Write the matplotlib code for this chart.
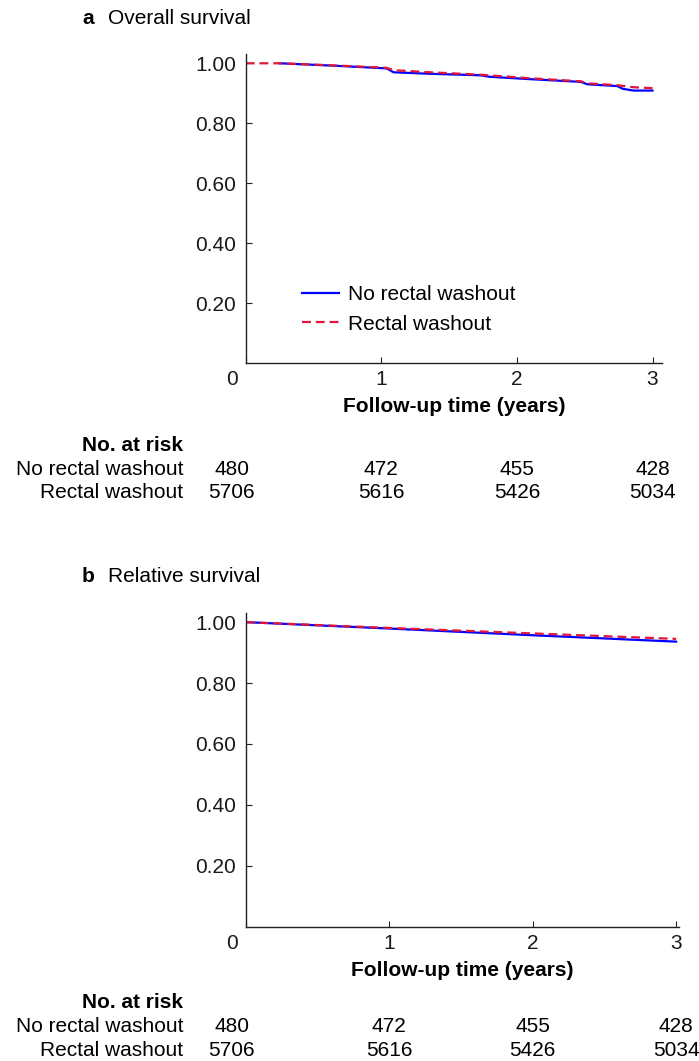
import matplotlib
matplotlib.use('Agg')
import matplotlib.pyplot as plt
import matplotlib.transforms as mtransforms

plt.rcParams['font.family'] = ['Liberation Sans', 'DejaVu Sans']
plt.rcParams['font.size'] = 15

# panel a: overall survival (Kaplan-Meier estimates)
os_no_t = [0.25, 0.65, 1.04, 1.09, 1.36, 1.73, 1.80, 2.10, 2.47, 2.52, 2.74, 2.78, 2.86, 3.0]
os_no_s = [1.0, 0.992, 0.983, 0.970, 0.965, 0.960, 0.955, 0.947, 0.938, 0.930, 0.924, 0.915, 0.909, 0.909]
os_rw_t = [0, 0.25, 0.65, 1.04, 1.09, 1.36, 1.73, 2.10, 2.47, 2.52, 2.74, 2.86, 3.0]
os_rw_s = [1.0, 1.0, 0.993, 0.985, 0.977, 0.970, 0.962, 0.950, 0.940, 0.933, 0.927, 0.920, 0.917]

# panel b: relative survival
rs_no_t = [0, 1, 2, 3]
rs_no_s = [1.0, 0.979, 0.957, 0.936]
rs_rw_t = [0, 1, 2, 3]
rs_rw_s = [1.0, 0.981, 0.963, 0.945]

risk_times = [0, 1, 2, 3]
risk_no = [480, 472, 455, 428]
risk_rw = [5706, 5616, 5426, 5034]

yticks = [0.2, 0.4, 0.6, 0.8, 1.0]
ytick_labels = ['0.20', '0.40', '0.60', '0.80', '1.00']

W, H = 699, 1061
fig = plt.figure(figsize=(W / 100, H / 100), dpi=100)

BLUE = '#0000ff'
RED = '#e0173a'


def px_axes(left, top, right, bottom):
    return fig.add_axes([left / W, 1 - bottom / H, (right - left) / W, (bottom - top) / H])


def draw_panel(ax, xmax, t_no, s_no, t_rw, s_rw, letter, title, title_y, risk_y, legend):
    ax.plot(t_no, s_no, color=BLUE, lw=1.6, label='No rectal washout')
    ax.plot(t_rw, s_rw, color=RED, lw=1.6, ls=(0, (4, 2.2)), label='Rectal washout')
    ax.set_xlim(0, xmax)
    ax.set_ylim(0, 1.031)
    for s in ['top', 'right']:
        ax.spines[s].set_visible(False)
    for s in ['left', 'bottom']:
        ax.spines[s].set_linewidth(1.0)
        ax.spines[s].set_color('#222222')
    ax.set_yticks(yticks, labels=ytick_labels)
    ax.set_xticks([0, 1, 2, 3], labels=['0', '1', '2', '3'])
    ax.tick_params(direction='in', length=4.5, width=0.8, color='#222222',
                   labelcolor='#1a1a1a', labelsize=15)
    ax.tick_params(axis='y', pad=7)
    ax.tick_params(axis='x', pad=5)
    # the "0" sits left of the origin, as in the original
    off = mtransforms.ScaledTranslation(-14 / 100, 0, fig.dpi_scale_trans)
    lbl0 = ax.get_xticklabels()[0]
    lbl0.set_transform(lbl0.get_transform() + off)
    ax.set_xlabel('Follow-up time (years)', fontweight='bold', fontsize=15, labelpad=6)

    if legend:
        ax.legend(loc='lower left', bbox_to_anchor=(0.089, 0.034), frameon=False,
                  handlelength=1.8, handletextpad=0.42, labelspacing=0.5, fontsize=15)

    fig.text(82 / W, 1 - title_y / H, letter, fontweight='bold', fontsize=15, va='center')
    fig.text(108 / W, 1 - title_y / H, title, fontsize=15, va='center')

    # number at risk table
    fig.text(183 / W, 1 - risk_y / H, 'No. at risk', fontweight='bold', fontsize=15,
             ha='right', va='center')
    rows = [('No rectal washout', risk_no), ('Rectal washout', risk_rw)]
    tr = mtransforms.blended_transform_factory(ax.transData, fig.transFigure)
    for i, (name, vals) in enumerate(rows):
        y = 1 - (risk_y + 23.5 * (i + 1)) / H
        fig.text(183 / W, y, name, fontsize=15, ha='right', va='center')
        for t, v in zip(risk_times, vals):
            shift = -14 / 100 if t == 0 else 0
            ax.text(t, y, str(v), transform=tr + mtransforms.ScaledTranslation(shift, 0, fig.dpi_scale_trans),
                    fontsize=15, ha='center', va='center', clip_on=False)


ax_a = px_axes(245.7, 54, 662, 363)
draw_panel(ax_a, 3.07, os_no_t, os_no_s, os_rw_t, os_rw_s, 'a', 'Overall survival', 18, 446, True)

ax_b = px_axes(245.7, 612.7, 679, 926.7)
draw_panel(ax_b, 3.02, rs_no_t, rs_no_s, rs_rw_t, rs_rw_s, 'b', 'Relative survival', 576, 1003, False)

fig.savefig('out.png', dpi=100)
